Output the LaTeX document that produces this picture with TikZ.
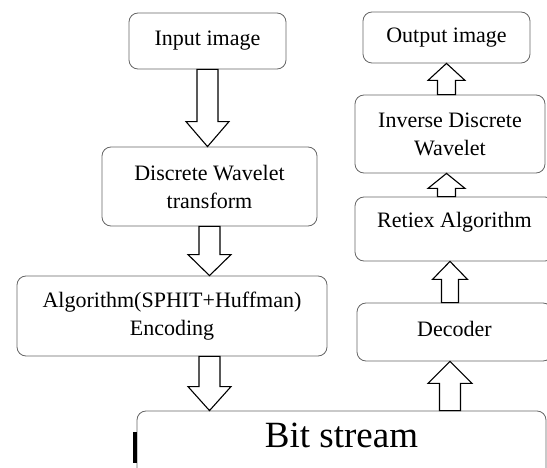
\documentclass[tikz,border=0pt]{standalone}
\usepackage{fontspec}
\setmainfont{Liberation Serif}
\usetikzlibrary{calc, positioning}

% hollow block arrow: from, to, shaft half width, head half width, head length
\newcommand{\blockarrow}[5]{%
  \draw[blockarr] ($(#1)!#3!90:(#2)$)
    -- ($(#2)!#5!(#1)!#3!-90:(#1)$)
    -- ($(#2)!#5!(#1)!#4!-90:(#1)$)
    -- (#2)
    -- ($(#2)!#5!(#1)!#4!90:(#1)$)
    -- ($(#2)!#5!(#1)!#3!90:(#1)$)
    -- ($(#1)!#3!-90:(#2)$) -- cycle;}

\tikzset{
  box/.style={draw=black!60, line width=0.8pt, rounded corners=9pt, align=center,
    inner sep=0pt, font=\fontsize{22}{28}\selectfont},
  blockarr/.style={draw=black, line width=1.1pt, fill=white, line join=miter},
}

\begin{document}
\begin{tikzpicture}[x=1pt, y=-1pt]
    \useasboundingbox (0,0) rectangle (547,468);
    \clip (0,0) rectangle (547,468);

    % encoder side
    \node[box, minimum width=157pt, minimum height=56pt] (inp) at (207.5,41) {Input image};
    \node[box, minimum width=215pt, minimum height=79pt] (dwt) at (209.5,186.5) {Discrete Wavelet\\transform};
    \node[box, minimum width=310pt, minimum height=80pt] (alg) at (172,316) {Algorithm(SPHIT+Huffman)\\Encoding};
    \node[box, minimum width=409pt, minimum height=82pt, text depth=33pt, font=\fontsize{37}{44}\selectfont] (bit) at (341.5,452) {Bit stream};

    % decoder side
    \node[box, minimum width=167pt, minimum height=51pt] (out) at (446.5,37.5) {Output image};
    \node[box, minimum width=190pt, minimum height=78pt] (idw) at (450,134) {Inverse Discrete\\Wavelet};
    \node[box, minimum width=199pt, minimum height=64pt, text depth=19pt] (ret) at (454.5,229) {Retiex Algorithm};
    \node[box, minimum width=195pt, minimum height=58pt, text depth=7pt] (dec) at (454.5,332) {Decoder};

    \blockarrow{inp.south}{inp.south|-dwt.north}{10.5pt}{21.5pt}{25pt}
    \blockarrow{dwt.south}{dwt.south|-alg.north}{10.5pt}{21.5pt}{21pt}
    \blockarrow{dwt.south|-alg.south}{dwt.south|-bit.north}{10.5pt}{21.5pt}{24pt}

    \blockarrow{idw.south|-bit.north}{idw.south|-dec.south}{10.5pt}{22pt}{22pt}
    \blockarrow{idw.south|-dec.north}{idw.south|-ret.south}{8.5pt}{17.5pt}{18pt}
    \blockarrow{out.south|-ret.north}{out.south|-idw.south}{9pt}{18.5pt}{15pt}
    \blockarrow{out.south|-idw.north}{out.south}{9pt}{18.5pt}{17pt}

    % stray mark left of the bit stream box
    \fill (132.5,432) rectangle (136.5,463);
\end{tikzpicture}
\end{document}
